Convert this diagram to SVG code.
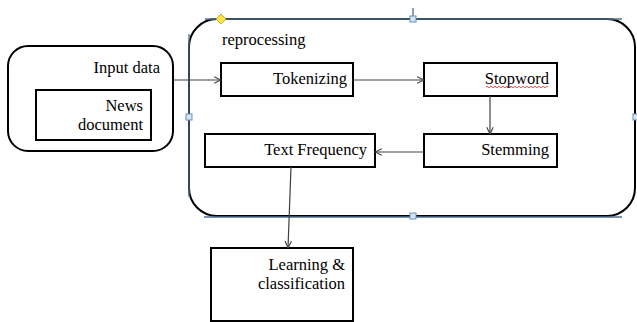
<svg xmlns="http://www.w3.org/2000/svg" width="637" height="322" viewBox="0 0 637 322">
<style>
  .box{fill:#fff;stroke:#000;stroke-width:2}
  .rbox{fill:#fff;stroke:#000;stroke-width:2}
  .t{font-family:"Liberation Serif","Times New Roman",serif;font-size:16.5px;fill:#000;text-anchor:end}
  .conn{stroke:#404040;stroke-width:1.2;fill:none;marker-end:url(#arr)}
  .sel{stroke:#4f6f8f;stroke-width:1.3;fill:none}
  .hdl{fill:#d3e6f5;stroke:#6a90b5;stroke-width:1}
</style>
<defs>
  <marker id="arr" viewBox="0 0 10 10" refX="9.5" refY="5" markerWidth="8" markerHeight="8" markerUnits="userSpaceOnUse" orient="auto">
    <path d="M1,1 L9.5,5 L1,9" fill="none" stroke="#404040" stroke-width="1.4"/>
  </marker>
</defs>
<rect width="637" height="322" fill="#fff"/>

<g id="preprocessing">
  <rect class="rbox" x="189" y="19" width="446" height="197" rx="28" ry="28"/>
  <text class="t" x="222" y="45" style="text-anchor:start">reprocessing</text>
  <g id="selection">
    <line class="sel" x1="205" y1="19" x2="622" y2="19"/>
    <line class="sel" x1="204" y1="217" x2="622" y2="217"/>
    <line class="sel" x1="189" y1="34" x2="189" y2="197"/>
    <line class="sel" x1="413" y1="8" x2="413" y2="16"/>
    <rect class="hdl" x="186" y="114" width="6" height="6"/>
    <rect class="hdl" x="410" y="16" width="6" height="6"/>
    <rect class="hdl" x="410" y="213" width="6" height="6"/>
    <rect class="hdl" x="633" y="114" width="6" height="6"/>
    <path d="M221,14 L226,19 L221,24 L216,19 Z" fill="#ffe14a" stroke="#b99a00" stroke-width="0.8"/>
  </g>
</g>

<g id="input">
  <rect class="rbox" x="8" y="46" width="165" height="105" rx="20" ry="20"/>
  <text class="t" x="160" y="73">Input data</text>
</g>
<g id="news">
  <rect class="box" x="36" y="90" width="115" height="50"/>
  <text class="t" x="143" y="111">News</text>
  <text class="t" x="143" y="130">document</text>
</g>
<g id="tokenizing">
  <rect class="box" x="221" y="63" width="132" height="33"/>
  <text class="t" x="347" y="84">Tokenizing</text>
</g>
<g id="stopword">
  <rect class="box" x="424" y="63" width="133" height="33"/>
  <text class="t" x="549" y="84">Stopword</text>
  <path d="M486,87 q1,-1.5 2,0 t2,0 t2,0 t2,0 t2,0 t2,0 t2,0 t2,0 t2,0 t2,0 t2,0 t2,0 t2,0 t2,0 t2,0 t2,0 t2,0 t2,0 t2,0 t2,0 t2,0 t2,0 t2,0 t2,0 t2,0 t2,0 t2,0 t2,0 t2,0 t2,0 t2,0" fill="none" stroke="#e02020" stroke-width="0.8"/>
</g>
<g id="stemming">
  <rect class="box" x="424" y="134" width="133" height="33"/>
  <text class="t" x="549" y="155">Stemming</text>
</g>
<g id="textfreq">
  <rect class="box" x="205" y="134" width="170" height="33"/>
  <text class="t" x="367" y="155">Text Frequency</text>
</g>
<g id="learning">
  <rect class="box" x="211" y="248" width="142" height="73"/>
  <text class="t" x="345" y="270">Learning &amp;</text>
  <text class="t" x="345" y="289">classification</text>
</g>

<g id="connectors">
  <line class="conn" x1="174" y1="80" x2="221" y2="80"/>
  <line class="conn" x1="353" y1="80" x2="424" y2="80"/>
  <line class="conn" x1="490" y1="96" x2="490" y2="134"/>
  <line class="conn" x1="424" y1="152" x2="375" y2="152"/>
  <line class="conn" x1="291" y1="167" x2="288" y2="248"/>
</g>
</svg>
